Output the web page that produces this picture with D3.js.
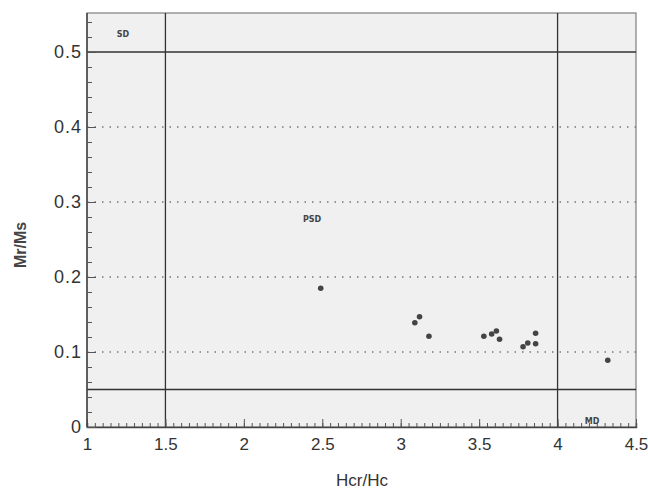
<!DOCTYPE html>
<html><head><meta charset="utf-8">
<script src="https://cdn.jsdelivr.net/npm/d3@7"></script>
<style>body{margin:0;background:#fff;} svg{display:block;}</style>
</head><body>
<svg id="c" width="648" height="490"></svg>
<script>
const hcrHc = [2.49, 3.12, 3.09, 3.18, 3.53, 3.58, 3.61, 3.63, 3.78, 3.81, 3.86, 3.86, 4.32];
const mrMs  = [0.185, 0.147, 0.139, 0.121, 0.121, 0.124, 0.128, 0.117, 0.107, 0.112, 0.125, 0.111, 0.089];
const xTicks = [1, 1.5, 2, 2.5, 3, 3.5, 4, 4.5];
const yTicks = [0, 0.1, 0.2, 0.3, 0.4, 0.5];
const gridY = [0.1, 0.2, 0.3, 0.4];
const boundX = [1.5, 4];
const boundY = [0.05, 0.5];
const regions = [{label:"SD", x:1.23, y:0.52}, {label:"PSD", x:2.435, y:0.273}, {label:"MD", x:4.22, y:0.004}];

const svg = d3.select("#c");
const x = d3.scaleLinear().domain([1, 4.5]).range([87, 636]);
const y = d3.scaleLinear().domain([0, 0.5]).range([427, 52]);
const yTop = 0.552;
const font = "Liberation Sans, Arial, sans-serif";

svg.append("rect").attr("x", x(1)).attr("y", y(yTop)).attr("width", x(4.5)-x(1)).attr("height", y(0)-y(yTop))
  .attr("fill", "#f0f0f0").attr("stroke", "#888").attr("stroke-width", 1.3);

// dotted grid
svg.append("g").selectAll("line").data(gridY).join("line")
  .attr("x1", x(1)).attr("x2", x(4.5)).attr("y1", d => y(d)).attr("y2", d => y(d))
  .attr("stroke", "#777").attr("stroke-width", 1.5).attr("stroke-dasharray", "1.5,6");

// boundary lines
svg.append("g").selectAll("line").data(boundX).join("line")
  .attr("x1", d => x(d)).attr("x2", d => x(d)).attr("y1", y(0)).attr("y2", y(yTop))
  .attr("stroke", "#333").attr("stroke-width", 1.3);
svg.append("g").selectAll("line").data(boundY).join("line")
  .attr("x1", x(1)).attr("x2", x(4.5)).attr("y1", d => y(d)).attr("y2", d => y(d))
  .attr("stroke", "#333").attr("stroke-width", 1.3);

// axes
svg.append("g").attr("transform", `translate(0,${y(0)})`)
  .call(d3.axisTop(x).tickValues(d3.range(1, 4.5001, 0.05)).tickSize(4).tickFormat(""))
  .call(g => g.selectAll("line").attr("stroke", "#555"))
  .call(g => g.select(".domain").attr("stroke", "#444").attr("stroke-width", 1.5));
svg.append("g").attr("transform", `translate(0,${y(0)})`)
  .call(d3.axisBottom(x).tickValues(xTicks).tickSize(0).tickPadding(11).tickFormat(d3.format("~g")))
  .call(g => g.select(".domain").remove())
  .call(g => g.selectAll("text").attr("font-family", font).attr("font-size", 17).attr("fill", "#333"));
svg.append("g").attr("transform", `translate(0,${y(0)})`)
  .call(d3.axisTop(x).tickValues(xTicks).tickSize(8).tickFormat(""))
  .call(g => g.select(".domain").remove()).call(g => g.selectAll("line").attr("stroke", "#555"));

svg.append("g").attr("transform", `translate(${x(1)},0)`)
  .call(d3.axisRight(y).tickValues(d3.range(0, 0.5501, 0.02)).tickSize(5).tickFormat(""))
  .call(g => g.selectAll("line").attr("stroke", "#555"))
  .call(g => g.select(".domain").attr("d", `M0,${y(0)}V${y(yTop)}`).attr("stroke", "#444").attr("stroke-width", 1.5));
svg.append("g").attr("transform", `translate(${x(1)},0)`)
  .call(d3.axisLeft(y).tickValues(yTicks).tickSize(0).tickPadding(5).tickFormat(d3.format("~g")))
  .call(g => g.select(".domain").remove())
  .call(g => g.selectAll("text").attr("font-family", font).attr("font-size", 18).attr("letter-spacing", 1).attr("fill", "#333"));
svg.append("g").attr("transform", `translate(${x(1)},0)`)
  .call(d3.axisRight(y).tickValues(yTicks).tickSize(9).tickFormat(""))
  .call(g => g.select(".domain").remove()).call(g => g.selectAll("line").attr("stroke", "#555"));

// region labels
svg.append("g").selectAll("text").data(regions).join("text")
  .attr("x", d => x(d.x)).attr("y", d => y(d.y)).attr("text-anchor", "middle")
  .attr("font-family", "DejaVu Sans, sans-serif").attr("font-size", 8).attr("font-weight", "bold")
  .attr("fill", "#444").text(d => d.label);

// points
svg.append("g").selectAll("circle").data(hcrHc.map((v, i) => [v, mrMs[i]])).join("circle")
  .attr("cx", d => x(d[0])).attr("cy", d => y(d[1])).attr("r", 2.8).attr("fill", "#444");

// axis titles
svg.append("text").attr("x", 362).attr("y", 486).attr("text-anchor", "middle")
  .attr("font-family", font).attr("font-size", 17).attr("fill", "#333").text("Hcr/Hc");
svg.append("text").attr("transform", "translate(26,245) rotate(-90)").attr("text-anchor", "middle")
  .attr("font-family", font).attr("font-size", 16).attr("font-weight", "bold").attr("fill", "#444").text("Mr/Ms");
</script>
</body></html>
